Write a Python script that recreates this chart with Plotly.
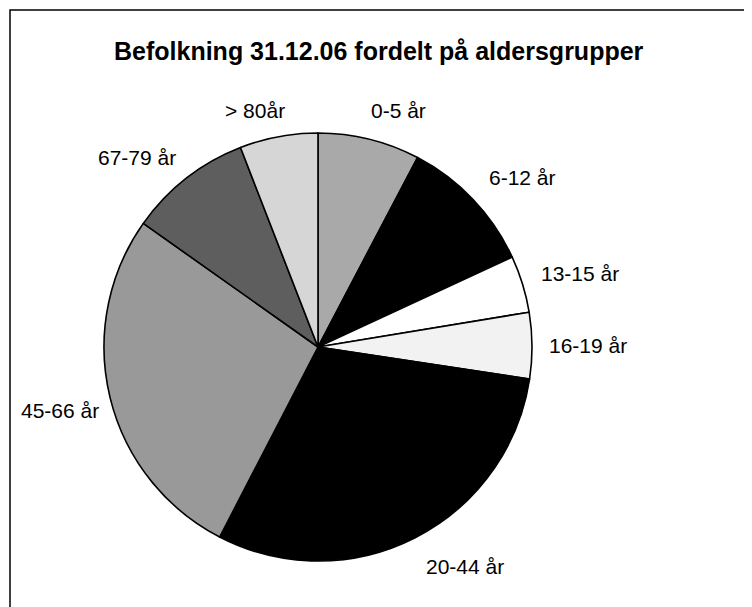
import plotly.graph_objects as go

labels = ["0-5 år", "6-12 år", "13-15 år", "16-19 år", "20-44 år", "45-66 år", "67-79 år", "> 80år"]
values = [7.7, 10.4, 4.3, 5.0, 30.2, 27.2, 9.3, 5.9]
colors = ["#a9a9a9", "#000000", "#ffffff", "#f2f2f2", "#000000", "#999999", "#5e5e5e", "#d6d6d6"]

# label centre positions (pixels in the 752x607 window)
label_px = [(398, 111), (522, 178), (580, 273), (588, 345), (465, 566), (60, 410), (137, 157), (255, 111)]

WIN_W, WIN_H = 752, 607
OFF = 8  # default page body margin
W, H = WIN_W - OFF, WIN_H - OFF
cx, cy, R = 318, 347, 214


def px(x):
    return (x - OFF) / W


def py(y):
    return 1 - (y - OFF) / H


fig = go.Figure(go.Pie(
    labels=labels,
    values=values,
    sort=False,
    direction="clockwise",
    rotation=0,
    marker=dict(colors=colors, line=dict(color="#000000", width=1.6)),
    textinfo="none",
    hoverinfo="label+percent",
    showlegend=False,
    domain=dict(x=[px(cx - R), px(cx + R)], y=[py(cy + R), py(cy - R)]),
))

annotations = [
    dict(text="<b>Befolkning 31.12.06 fordelt på aldersgrupper</b>", x=px(379), y=py(51),
         xref="paper", yref="paper", showarrow=False, xanchor="center", yanchor="middle",
         font=dict(family="Liberation Sans, Arial", size=25, color="#000"))
]
for lab, (lx, ly) in zip(labels, label_px):
    annotations.append(dict(text=lab, x=px(lx), y=py(ly), xref="paper", yref="paper",
                            showarrow=False, xanchor="center", yanchor="middle",
                            font=dict(family="Liberation Sans, Arial", size=21, color="#000")))

fig.update_layout(
    width=W, height=H,
    margin=dict(l=0, r=0, t=0, b=0),
    paper_bgcolor="#ffffff",
    plot_bgcolor="#ffffff",
    annotations=annotations,
    shapes=[dict(type="rect", xref="paper", yref="paper",
                 x0=px(10), x1=1.05, y0=-0.05, y1=py(10),
                 line=dict(color="#000", width=1.5))],
)

fig.write_html("out.html")
